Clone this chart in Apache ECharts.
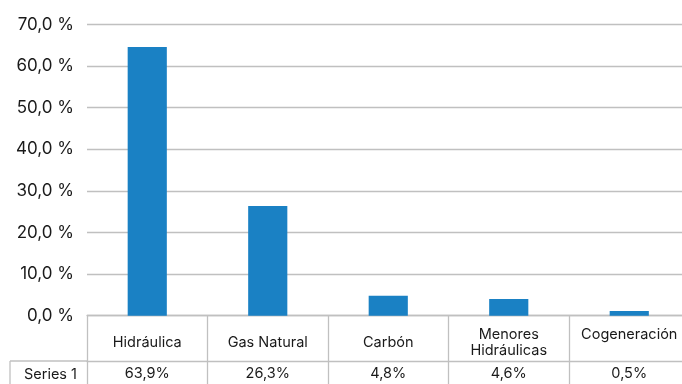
<!DOCTYPE html>
<html><head><meta charset="utf-8">
<script src="https://cdn.jsdelivr.net/npm/echarts@6/dist/echarts.min.js"></script>
<style>html,body{margin:0;padding:0;background:#fff}#c{width:682px;height:384px}</style>
</head><body><div id="c"></div>
<script>
var categories = ['Hidráulica', 'Gas Natural', 'Carbón', 'Menores\nHidráulicas', 'Cogeneración'];
var barValues = [64.6, 26.4, 4.8, 4.0, 1.1];
var tableValues = [63.9, 26.3, 4.8, 4.6, 0.5];
var seriesName = 'Series 1';
var yTicks = [0, 10, 20, 30, 40, 50, 60, 70];

var gridColor = '#c0c0c0';
var textColor = '#1a1a1a';
var font = 'Inter';
function fmt(v, sp) { return v.toFixed(1).replace('.', ',') + sp + '%'; }

var chart = echarts.init(document.getElementById('c'), null, {renderer: 'canvas'});
chart.setOption({
  animation: false,
  grid: {left: 87, right: -7.5, top: 24.5, bottom: 68.3, containLabel: false, outerBoundsMode: 'none'},
  xAxis: [{
    type: 'category',
    data: categories.map(function (c, i) {
      return i === 4 ? {value: c, textStyle: {verticalAlign: 'bottom'}} : c;
    }),
    axisLine: {lineStyle: {color: gridColor, width: 1.3}},
    axisTick: {show: true, length: 80, lineStyle: {color: gridColor, width: 1.3}},
    axisLabel: {color: textColor, fontFamily: font, fontSize: 14.5, margin: 27, verticalAlign: 'middle', lineHeight: 16, interval: 0}
  }, {
    type: 'category',
    position: 'bottom',
    offset: 45.3,
    data: tableValues.map(function (v) { return fmt(v, ''); }),
    axisLine: {show: true, lineStyle: {color: gridColor, width: 1.3}},
    axisTick: {show: false},
    axisLabel: {color: textColor, fontFamily: font, fontSize: 14.5, margin: 13, verticalAlign: 'middle', interval: 0},
    name: seriesName,
    nameLocation: 'start',
    nameGap: 10,
    nameTextStyle: {color: textColor, fontFamily: font, fontSize: 14.5, align: 'right', verticalAlign: 'top', lineHeight: 27}
  }],
  yAxis: {
    type: 'value', min: 0, max: 70, interval: 10,
    axisLine: {show: false}, axisTick: {show: false},
    splitLine: {lineStyle: {color: gridColor, width: 1.3}},
    axisLabel: {color: textColor, fontFamily: font, fontSize: 17, margin: 13, formatter: function (v) { return fmt(v, ' '); }}
  },
  series: [{
    type: 'bar', data: barValues, xAxisIndex: 0, barWidth: '32.5%',
    itemStyle: {color: '#1a81c4'}
  }],
  graphic: [
    {type: 'line', shape: {x1: 10, y1: 361, x2: 87, y2: 361}, style: {stroke: gridColor, lineWidth: 1.3}},
    {type: 'line', shape: {x1: 10, y1: 361, x2: 10, y2: 390}, style: {stroke: gridColor, lineWidth: 1.3}}
  ]
});
</script></body></html>
